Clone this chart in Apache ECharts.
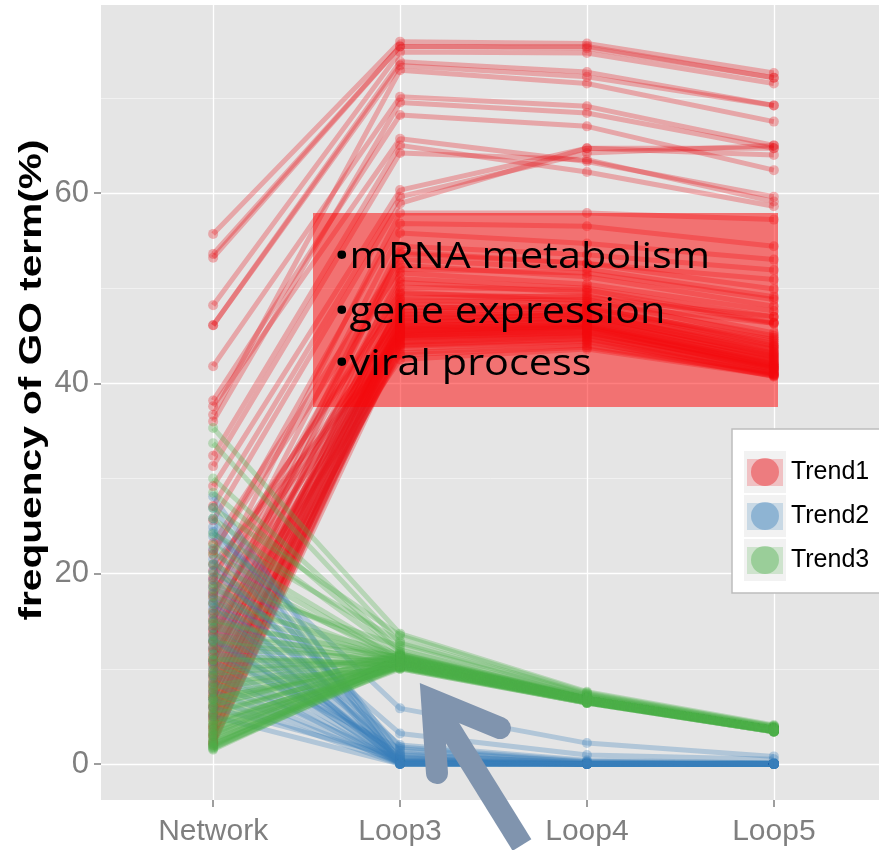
<!DOCTYPE html>
<html>
<head>
<meta charset="utf-8">
<script src="https://cdn.jsdelivr.net/npm/echarts@6/dist/echarts.min.js"></script>
<style>
  html, body { margin: 0; padding: 0; background: #ffffff; }
  #chart { width: 879px; height: 850px; }
</style>
</head>
<body>
<div id="chart"></div>
<script>
// Stages on the x axis
const categories = ['Network', 'Loop3', 'Loop4', 'Loop5'];
// Y axis ticks (major) and minor grid positions
const yTicks = [0, 20, 40, 60];
const yMinorTicks = [10, 30, 50, 70];
const yTitle = 'frequency of GO term(%)';
const trendNames = ['Trend1', 'Trend2', 'Trend3'];
const trendColors = ['#E8141A', '#377EB8', '#4DAF4A'];
const notes = ['\u2022mRNA metabolism', '\u2022gene expression', '\u2022viral process'];

// GO term frequency per stage [Network, Loop3, Loop4, Loop5]
const trend1 = [
  [55.7, 75.9, 75.7, 72.6], [53.6, 75.4, 75.2, 72.1], [53.2, 75.4, 75.4, 72.1],
  [48.2, 74.8, 74.7, 71.5], [46.1, 73.8, 72.7, 69.2], [46.1, 73.4, 72.2, 69.2],
  [36.7, 72.9, 71.5, 67.5], [41.8, 70.1, 69.1, 65.0], [38.2, 68.2, 67.0, 62.4],
  [37.6, 65.7, 63.3, 59.6], [32.4, 65.0, 62.2, 58.6], [31.3, 64.2, 63.5, 59.1],
  [29.2, 60.3, 64.7, 64.7], [27.1, 59.6, 64.2, 65.0], [25.6, 58.9, 64.7, 64.0],
  [19.3, 57.9, 57.9, 57.2], [22.0, 56.8, 56.5, 54.4], [17.5, 55.8, 54.7, 53.0],
  [15.0, 54.4, 53.5, 51.9], [12.8, 53.6, 52.6, 50.9], [36.0, 69.5, 68.4, 64.7],
  [2.0, 45.2, 45.8, 41.6], [2.4, 44.6, 45.1, 41.0], [2.9, 46.0, 46.5, 42.3],
  [3.3, 45.5, 46.0, 41.9], [3.7, 44.1, 44.7, 40.9], [4.1, 46.8, 47.1, 43.0],
  [4.6, 45.0, 45.6, 41.4], [5.0, 47.3, 47.6, 43.6], [5.4, 43.6, 44.3, 41.1],
  [5.9, 46.3, 46.9, 42.7], [6.3, 44.9, 45.3, 41.8], [6.8, 47.9, 48.2, 44.2],
  [7.2, 45.8, 46.4, 42.0], [7.7, 43.2, 44.0, 40.8], [8.1, 46.6, 47.3, 43.3],
  [8.6, 48.5, 48.8, 44.8], [9.0, 44.4, 45.0, 41.3], [9.5, 45.9, 46.2, 42.5],
  [9.9, 49.0, 49.2, 45.3], [10.4, 45.3, 45.9, 41.7], [10.8, 47.0, 47.5, 43.8],
  [11.3, 44.0, 44.6, 41.0], [11.8, 46.1, 46.7, 42.9], [12.3, 50.1, 49.8, 46.4],
  [12.9, 45.6, 46.0, 42.2], [13.4, 48.0, 47.9, 44.6], [14.0, 44.8, 45.4, 41.5],
  [14.6, 46.4, 47.0, 43.1], [15.3, 51.0, 50.0, 47.0], [16.1, 45.1, 45.7, 42.0],
  [16.9, 47.6, 48.1, 44.0], [17.8, 52.4, 51.2, 48.1], [18.7, 46.9, 47.2, 43.5],
  [19.6, 49.6, 48.6, 45.0], [21.0, 44.3, 44.9, 41.2], [23.2, 53.0, 52.0, 49.1],
  [2.2, 43.9, 44.4, 40.7], [3.0, 46.5, 46.8, 42.6], [3.9, 45.7, 46.2, 42.1],
  [4.9, 44.7, 45.2, 41.5], [6.0, 47.5, 47.8, 43.9], [7.0, 45.4, 45.9, 41.8],
  [8.3, 43.0, 43.8, 40.9], [9.3, 46.0, 46.6, 42.8], [10.6, 48.3, 48.0, 44.4],
  [12.0, 45.0, 45.5, 41.6], [13.7, 42.5, 43.6, 40.8], [15.8, 47.2, 47.4, 43.2],
  [18.1, 45.5, 46.1, 42.4], [20.3, 48.8, 48.4, 46.3], [5.2, 49.4, 49.0, 47.0],
  [7.5, 50.6, 49.5, 46.3], [11.0, 51.6, 50.4, 47.6], [14.2, 53.8, 52.6, 49.9],
  [22.4, 52.0, 51.6, 48.8]
];

const trend2 = [
  [28.1, 0.3, 0.0, 0.0], [26.9, 1.1, 0.0, 0.0], [24.9, 0.5, 0.0, 0.0],
  [24.4, 5.85, 2.2, 0.8], [23.9, 0.2, 0.0, 0.0], [22.6, 1.8, 0.3, 0.1],
  [20.9, 0.0, 0.0, 0.0], [20.2, 3.2, 0.95, 0.5], [19.4, 0.4, 0.0, 0.0],
  [17.9, 0.1, 0.0, 0.0], [17.2, 1.4, 0.2, 0.0], [16.4, 0.0, 0.0, 0.0],
  [15.7, 0.6, 0.0, 0.0], [15.0, 0.2, 0.0, 0.0], [14.3, 0.9, 0.1, 0.0],
  [13.6, 0.0, 0.0, 0.0], [12.9, 0.3, 0.0, 0.0], [12.2, 0.0, 0.0, 0.0],
  [11.5, 1.6, 0.2, 0.1], [10.8, 0.1, 0.0, 0.0], [10.0, 0.0, 0.0, 0.0],
  [9.3, 0.4, 0.0, 0.0], [8.5, 0.0, 0.0, 0.0], [7.6, 0.2, 0.0, 0.0],
  [6.8, 0.0, 0.0, 0.0], [5.9, 0.7, 0.0, 0.0], [5.0, 0.0, 0.0, 0.0],
  [18.6, 2.0, 0.4, 0.1], [21.5, 0.1, 0.0, 0.0], [16.8, 0.0, 0.0, 0.0],
  [13.1, 1.0, 0.1, 0.0], [25.8, 0.0, 0.0, 0.0]
];

const trend3 = [
  [35.3, 13.7, 7.6, 4.1], [33.7, 12.7, 7.3, 3.9], [30.0, 12.0, 7.1, 3.8],
  [25.8, 11.6, 6.9, 3.7], [23.0, 11.2, 6.8, 3.6], [22.1, 11.0, 6.7, 3.6],
  [26.9, 13.5, 7.5, 4.0], [16.9, 11.4, 6.7, 3.5], [19.0, 12.4, 7.2, 3.9],
  [21.0, 10.8, 6.6, 3.5], [28.5, 11.8, 6.9, 3.7], [24.2, 12.9, 7.4, 4.0],
  [1.5, 10.6, 6.7, 3.6], [1.7, 10.2, 6.5, 3.5], [1.9, 11.0, 6.8, 3.6],
  [2.1, 10.4, 6.6, 3.5], [2.3, 10.8, 6.7, 3.6], [2.6, 10.0, 6.4, 3.4],
  [2.8, 11.2, 6.9, 3.7], [3.1, 10.5, 6.6, 3.5], [3.4, 10.9, 6.8, 3.6],
  [3.7, 10.3, 6.5, 3.5], [4.0, 11.4, 7.0, 3.7], [4.3, 10.7, 6.7, 3.6],
  [4.7, 10.1, 6.4, 3.4], [5.1, 11.1, 6.9, 3.7], [5.5, 10.6, 6.6, 3.5],
  [5.9, 10.2, 6.5, 3.5], [6.3, 10.9, 6.8, 3.6], [6.8, 11.3, 6.9, 3.7],
  [7.2, 10.4, 6.5, 3.5], [7.7, 10.8, 6.7, 3.6], [8.2, 11.5, 7.0, 3.8],
  [8.7, 10.0, 6.4, 3.4], [9.2, 10.7, 6.7, 3.6], [9.8, 11.2, 6.9, 3.7],
  [10.3, 10.5, 6.6, 3.5], [10.9, 10.9, 6.8, 3.6], [11.5, 10.3, 6.5, 3.5],
  [12.1, 11.0, 6.8, 3.6], [12.8, 10.6, 6.6, 3.5], [13.5, 11.3, 6.9, 3.7],
  [14.3, 10.2, 6.5, 3.4], [15.1, 10.8, 6.7, 3.6], [16.0, 11.1, 6.8, 3.7],
  [17.6, 10.5, 6.6, 3.5], [18.4, 10.9, 6.7, 3.6], [20.0, 11.4, 6.9, 3.7],
  [1.6, 10.9, 6.8, 3.6], [2.0, 11.3, 6.9, 3.7], [2.5, 10.6, 6.6, 3.5],
  [3.0, 10.1, 6.5, 3.4], [3.6, 11.0, 6.8, 3.6], [4.5, 10.4, 6.6, 3.5],
  [5.3, 10.8, 6.7, 3.6], [6.1, 11.6, 7.1, 3.8], [7.0, 10.3, 6.5, 3.5],
  [8.0, 10.7, 6.7, 3.6], [9.5, 11.0, 6.8, 3.6], [11.0, 10.5, 6.6, 3.5],
  [13.0, 10.9, 6.8, 3.6], [14.8, 11.2, 6.9, 3.7], [1.8, 10.3, 6.5, 3.5],
  [2.2, 10.7, 6.7, 3.6], [3.2, 11.1, 6.9, 3.7], [4.1, 10.2, 6.4, 3.4],
  [6.6, 10.6, 6.7, 3.5]
];

const trends = [trend1, trend2, trend3];
const LINE_ALPHA = 0.3;

function rgba(hex, a) {
  const n = parseInt(hex.slice(1), 16);
  return 'rgba(' + (n >> 16 & 255) + ',' + (n >> 8 & 255) + ',' + (n & 255) + ',' + a + ')';
}

// One line series per GO term, sharing the trend name so the legend groups them
const series = [];
trends.forEach(function (rows, t) {
  rows.forEach(function (row) {
    series.push({
      type: 'line',
      name: trendNames[t],
      data: row.map(function (v, i) { return [i, v]; }),
      symbol: 'circle',
      symbolSize: 10,
      showSymbol: true,
      silent: true,
      animation: false,
      clip: false,
      z: 2,
      lineStyle: { width: 5, color: trendColors[t], opacity: LINE_ALPHA },
      itemStyle: { color: trendColors[t], opacity: LINE_ALPHA },
      emphasis: { disabled: true }
    });
  });
});

const axisGrey = '#7F7F7F';
const labelFont = "'Liberation Sans', Arial, sans-serif";

// Legend: one block per trend, a filled circle over a pale bar on a grey key square
const KEY_TOP = 451, KEY_STEP = 44;
const legends = trendNames.map(function (n, i) {
  return {
    orient: 'vertical', left: 751, top: KEY_TOP + 7 + KEY_STEP * i, padding: 0,
    itemWidth: 28, itemHeight: 28, icon: 'circle', z: 10, selectedMode: false,
    formatter: function (name) { return ' ' + name; },
    textStyle: { color: '#000000', fontSize: 25, fontFamily: labelFont },
    data: [{ name: n, itemStyle: { color: rgba(trendColors[i], 0.4), opacity: 1, borderWidth: 0 } }]
  };
});
const keyGraphics = [];
trendNames.forEach(function (n, i) {
  keyGraphics.push({ type: 'rect', z: 8, shape: { x: 744, y: KEY_TOP + KEY_STEP * i, width: 42, height: 42 }, style: { fill: '#F2F2F2' } });
  keyGraphics.push({ type: 'rect', z: 9, shape: { x: 747, y: KEY_TOP + 8 + KEY_STEP * i, width: 36, height: 27 }, style: { fill: rgba(trendColors[i], 0.22) } });
});

const noteFont = "36px 'Open Sans', sans-serif";

const option = {
  backgroundColor: '#ffffff',
  animation: false,
  grid: {
    left: 101, top: 5, width: 785, height: 795,
    show: true, backgroundColor: '#E5E5E5', borderWidth: 0,
    containLabel: false, outerBoundsMode: 'none'
  },
  xAxis: {
    type: 'value', min: -0.6, max: 3.6,
    axisLine: { show: false, onZero: false },
    axisTick: { show: true, customValues: [0, 1, 2, 3], length: 7, lineStyle: { color: axisGrey, width: 1.5 } },
    axisLabel: {
      customValues: [0, 1, 2, 3], margin: 17, color: axisGrey, fontSize: 30, fontFamily: labelFont,
      formatter: function (v) { return categories[Math.round(v)]; }
    },
    splitLine: { show: true, lineStyle: { color: '#FFFFFF', width: 1.3 } }
  },
  yAxis: [
    {
      type: 'value', min: -3.78, max: 79.75,
      axisLine: { show: false, onZero: false },
      axisTick: { show: true, customValues: yTicks, length: 7, lineStyle: { color: axisGrey, width: 1.5 } },
      axisLabel: { customValues: yTicks, margin: 12, color: axisGrey, fontSize: 31, fontFamily: labelFont },
      splitLine: { show: true, lineStyle: { color: '#FFFFFF', width: 1.3 } }
    },
    {
      type: 'value', min: -3.78, max: 79.75,
      axisLine: { show: false, onZero: false },
      axisTick: { show: false, customValues: yMinorTicks },
      axisLabel: { show: false, customValues: yMinorTicks },
      splitLine: { show: true, lineStyle: { color: '#F2F2F2', width: 0.9 } }
    }
  ],
  legend: legends,
  graphic: [
    // y axis title
    {
      type: 'text', x: 32, y: 380, rotation: Math.PI / 2, scaleX: 1.27, z: 5,
      style: { text: yTitle, font: "bold 32px 'Liberation Sans', Arial, sans-serif", fill: '#000000', align: 'center', verticalAlign: 'middle' }
    },
    // annotation box
    {
      type: 'rect', z: 3, shape: { x: 313, y: 213, width: 465, height: 194 },
      style: { fill: 'rgba(255,0,0,0.5)' }
    },
    { type: 'text', x: 334, y: 258, scaleX: 1.15, z: 4, style: { text: notes[0], font: noteFont, fill: '#000000', verticalAlign: 'middle' } },
    { type: 'text', x: 334, y: 313, scaleX: 1.15, z: 4, style: { text: notes[1], font: noteFont, fill: '#000000', verticalAlign: 'middle' } },
    { type: 'text', x: 334, y: 365, scaleX: 1.15, z: 4, style: { text: notes[2], font: noteFont, fill: '#000000', verticalAlign: 'middle' } },
    // pointer arrow
    {
      type: 'polyline', z: 6, shape: { points: [[437, 773], [432, 700], [500, 728]] },
      style: { stroke: '#8094AE', lineWidth: 22, lineJoin: 'miter', lineCap: 'round', fill: null }
    },
    {
      type: 'line', z: 6, shape: { x1: 432, y1: 700, x2: 522, y2: 845 },
      style: { stroke: '#8094AE', lineWidth: 22, lineCap: 'butt' }
    },
    // legend frame
    {
      type: 'rect', z: 7, shape: { x: 732, y: 429, width: 170, height: 164 },
      style: { fill: '#FFFFFF', stroke: '#BDBDBD', lineWidth: 1.5 }
    }
  ].concat(keyGraphics),
  series: series
};

const chart = echarts.init(document.getElementById('chart'), null, { renderer: 'canvas' });
chart.setOption(option);
</script>
</body>
</html>
